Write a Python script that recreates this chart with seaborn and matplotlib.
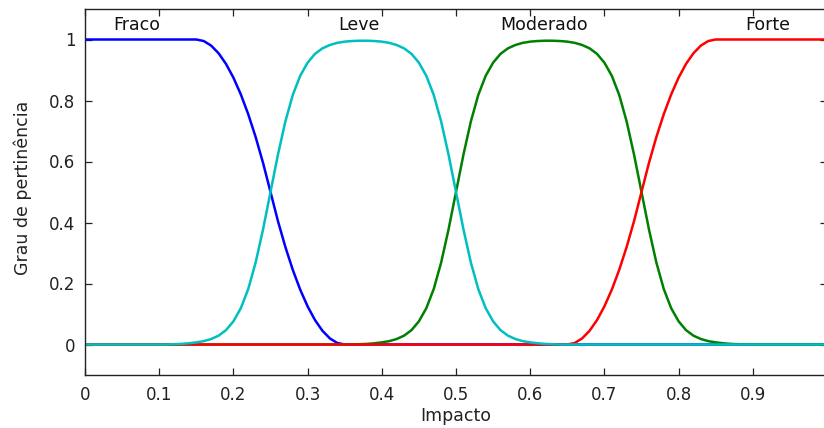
import matplotlib
matplotlib.use("Agg")
import matplotlib.pyplot as plt
import pandas as pd
import seaborn as sns

# Sample positions along the "Impacto" axis (step 0.01)
impacto = [
    0.00, 0.01, 0.02, 0.03, 0.04, 0.05, 0.06, 0.07, 0.08, 0.09,
    0.10, 0.11, 0.12, 0.13, 0.14, 0.15, 0.16, 0.17, 0.18, 0.19,
    0.20, 0.21, 0.22, 0.23, 0.24, 0.25, 0.26, 0.27, 0.28, 0.29,
    0.30, 0.31, 0.32, 0.33, 0.34, 0.35, 0.36, 0.37, 0.38, 0.39,
    0.40, 0.41, 0.42, 0.43, 0.44, 0.45, 0.46, 0.47, 0.48, 0.49,
    0.50, 0.51, 0.52, 0.53, 0.54, 0.55, 0.56, 0.57, 0.58, 0.59,
    0.60, 0.61, 0.62, 0.63, 0.64, 0.65, 0.66, 0.67, 0.68, 0.69,
    0.70, 0.71, 0.72, 0.73, 0.74, 0.75, 0.76, 0.77, 0.78, 0.79,
    0.80, 0.81, 0.82, 0.83, 0.84, 0.85, 0.86, 0.87, 0.88, 0.89,
    0.90, 0.91, 0.92, 0.93, 0.94, 0.95, 0.96, 0.97, 0.98, 0.99,
    1.00,
]

# Membership degree of each linguistic term at those positions
fraco = (
    [1.0] * 16
    + [0.995, 0.98, 0.955, 0.92, 0.875, 0.82, 0.755, 0.68, 0.595, 0.5,
       0.405, 0.32, 0.245, 0.18, 0.125, 0.08, 0.045, 0.02, 0.005, 0.0]
    + [0.0] * 65
)
leve = (
    [0.0] * 12
    + [0.001, 0.002, 0.004, 0.007, 0.011, 0.018, 0.029, 0.047, 0.076, 0.119,
       0.182, 0.269, 0.378, 0.5, 0.622, 0.731, 0.818, 0.881, 0.924, 0.953,
       0.971, 0.982, 0.989, 0.993, 0.995, 0.996, 0.996, 0.995, 0.993, 0.989,
       0.982, 0.971, 0.953, 0.924, 0.881, 0.818, 0.731, 0.622, 0.5, 0.378,
       0.269, 0.182, 0.119, 0.076, 0.047, 0.029, 0.018, 0.011, 0.007, 0.004,
       0.002, 0.001]
    + [0.0] * 37
)
moderado = (
    [0.0] * 37
    + [0.001, 0.002, 0.004, 0.007, 0.011, 0.018, 0.029, 0.047, 0.076, 0.119,
       0.182, 0.269, 0.378, 0.5, 0.622, 0.731, 0.818, 0.881, 0.924, 0.953,
       0.971, 0.982, 0.989, 0.993, 0.995, 0.996, 0.996, 0.995, 0.993, 0.989,
       0.982, 0.971, 0.953, 0.924, 0.881, 0.818, 0.731, 0.622, 0.5, 0.378,
       0.269, 0.182, 0.119, 0.076, 0.047, 0.029, 0.018, 0.011, 0.007, 0.004,
       0.002, 0.001]
    + [0.0] * 12
)
forte = (
    [0.0] * 66
    + [0.005, 0.02, 0.045, 0.08, 0.125, 0.18, 0.245, 0.32, 0.405, 0.5,
       0.595, 0.68, 0.755, 0.82, 0.875, 0.92, 0.955, 0.98, 0.995, 1.0]
    + [1.0] * 15
)

termos = ["Fraco", "Leve", "Moderado", "Forte"]
cores = {"Fraco": "#0000FF", "Leve": "#00BFBF", "Moderado": "#008000", "Forte": "#FF0000"}
# Term label positions (x, y) above each curve
rotulo_x = [0.0697, 0.369, 0.619, 0.920]
rotulo_y = [1.046, 1.046, 1.046, 1.046]

df = pd.concat(
    [
        pd.DataFrame({"Impacto": impacto, "Grau": vals, "Termo": nome})
        for nome, vals in zip(termos, [fraco, leve, moderado, forte])
    ],
    ignore_index=True,
)

sns.set_theme(style="white")
plt.rcParams["font.family"] = ["DejaVu Sans"]

fig = plt.figure(figsize=(8.24, 4.28), dpi=100)
ax = fig.add_axes([85 / 824, 1 - 375 / 428, 742 / 824, 366 / 428])

# Drawing order keeps the cyan baseline on top at both ends
sns.lineplot(
    data=df, x="Impacto", y="Grau", hue="Termo",
    hue_order=["Fraco", "Moderado", "Forte", "Leve"],
    palette=cores, estimator=None, errorbar=None, sort=False,
    linewidth=1.8, legend=False, ax=ax,
)

for nome, tx, ty in zip(termos, rotulo_x, rotulo_y):
    ax.text(tx, ty, nome, ha="center", va="center", fontsize=12.5, color="#111111")

ax.set_xlim(0, 1)
ax.set_ylim(-0.1, 1.1)
ax.set_xticks([0, 0.1, 0.2, 0.3, 0.4, 0.5, 0.6, 0.7, 0.8, 0.9, 1])
ax.set_xticklabels(["0", "0.1", "0.2", "0.3", "0.4", "0.5", "0.6", "0.7", "0.8", "0.9", "1"])
ax.set_yticks([0, 0.2, 0.4, 0.6, 0.8, 1])
ax.set_yticklabels(["0", "0.2", "0.4", "0.6", "0.8", "1"])

ax.tick_params(axis="both", direction="in", length=5, width=0.9, color="#222222",
               labelsize=12, labelcolor="#222222", top=True, right=True,
               bottom=True, left=True)
ax.tick_params(axis="x", pad=8)
ax.tick_params(axis="y", pad=7)

for sp in ax.spines.values():
    sp.set_visible(True)
    sp.set_color("#222222")
    sp.set_linewidth(1.0)

ax.set_xlabel("Impacto", fontsize=12.5, color="#222222")
ax.set_ylabel("Grau de pertinência", fontsize=12.5, color="#222222")
ax.xaxis.set_label_coords(0.5, -0.088)
ax.yaxis.set_label_coords(-0.071, 0.51)

fig.savefig("out.png", dpi=100, facecolor="white")
